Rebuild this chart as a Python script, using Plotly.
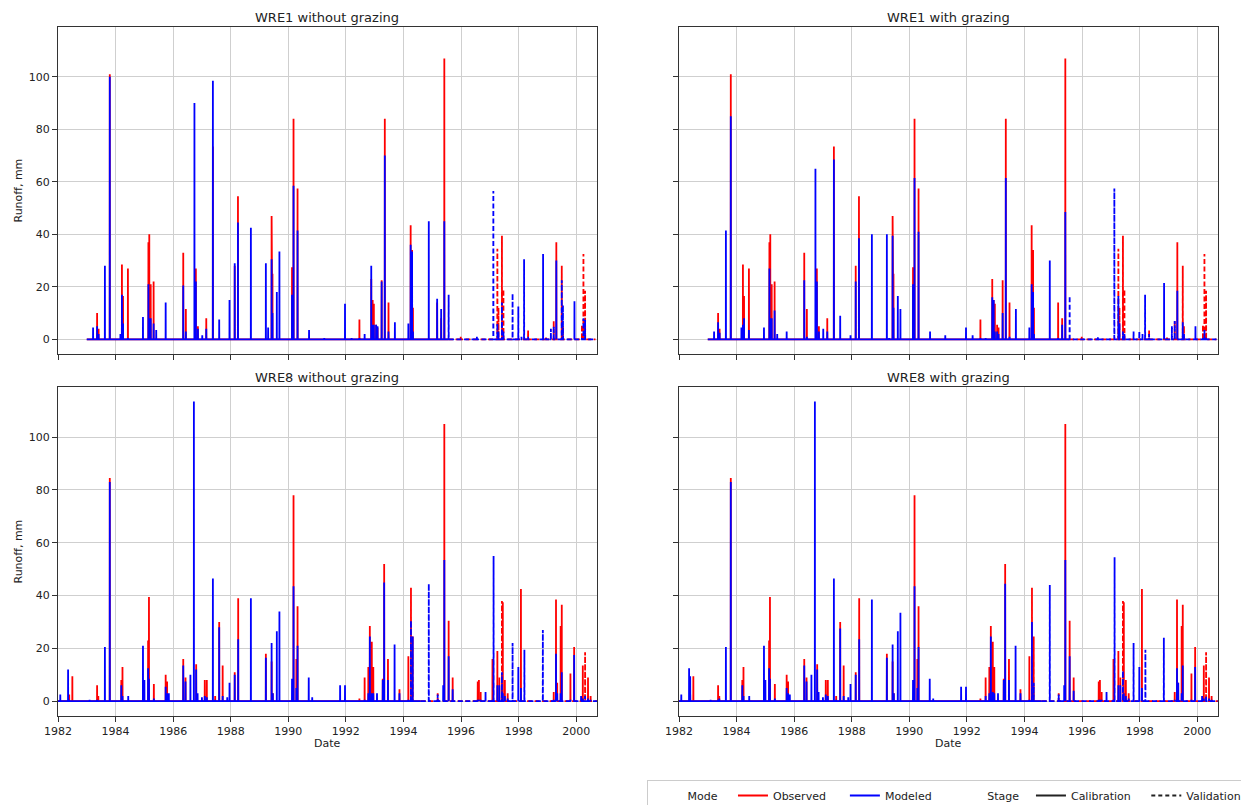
import calendar
import numpy as np
import pandas as pd
import plotly.graph_objects as go

# ---------------- data ----------------
# event dates in decimal years
WRE1_dates = [1983.22, 1983.36, 1983.41, 1983.63, 1983.80, 1984.17, 1984.22, 1984.26, 1984.43, 1984.95,
              1985.14, 1985.17, 1985.22, 1985.32, 1985.41, 1985.74, 1986.35, 1986.44, 1986.74, 1986.79,
              1986.86, 1987.01, 1987.15, 1987.38, 1987.60, 1987.96, 1988.14, 1988.25, 1988.70, 1989.22,
              1989.30, 1989.42, 1989.45, 1989.60, 1989.69, 1990.13, 1990.18, 1990.32, 1990.72, 1991.25,
              1991.97, 1992.20, 1992.47, 1992.65, 1992.88, 1992.93, 1992.97, 1993.05, 1993.10, 1993.24,
              1993.35, 1993.48, 1993.70, 1994.17, 1994.25, 1994.30, 1994.33, 1994.88, 1995.17, 1995.31,
              1995.42, 1995.57, 1995.99, 1996.55, 1997.12, 1997.26, 1997.30, 1997.42, 1997.47, 1997.79,
              1997.99, 1998.10, 1998.19, 1998.33, 1998.85, 1998.95, 1999.12, 1999.22, 1999.31, 1999.50,
              1999.54, 1999.94, 2000.20, 2000.25, 2000.31]
WRE1_observed = [0, 10, 4, 0, 101, 0, 28.5, 16.5, 27, 0,
                 37, 40, 21, 22, 0, 0, 33, 11.5, 0, 27,
                 5, 0, 8, 73.5, 0, 0, 28, 54.5, 0, 0,
                 0, 47, 25, 0, 0, 27.5, 84, 57.5, 0, 0,
                 0, 0, 7.5, 0, 23, 15, 13.5, 5.5, 4.5, 22.5,
                 84, 14, 0, 0, 43.5, 34, 12, 0, 14, 8,
                 107, 0, 1, 0, 0, 34.5, 12, 39.5, 19, 0,
                 0, 0, 0, 3.5, 0, 1, 0, 7, 37, 28,
                 5, 0, 5.5, 32.5, 18.5]
WRE1_modeled_without = [4.5, 5, 2, 28, 100, 2, 17, 6, 0.5, 8.5,
                        21, 8, 8, 6, 3.5, 14, 20.5, 3, 90, 22,
                        4, 1.5, 4, 98.5, 7.5, 15, 29, 44.5, 42.5, 29,
                        4.5, 30.5, 10, 18, 33.5, 17, 58.5, 41.5, 3.5, 0.5,
                        13.5, 0.5, 0.5, 2, 28, 5.5, 5.5, 5.5, 5, 22,
                        70, 3, 6.5, 6, 36, 33.5, 3, 45, 15.5, 11.5,
                        45, 17, 0, 1, 56.5, 6, 3, 14, 3, 17.5,
                        12.5, 1, 30.5, 1, 32.5, 0.5, 4, 5, 30, 22.5,
                        13, 14.5, 0.5, 8, 7.5]
WRE1_modeled_with = [3, 6.5, 2.5, 41.5, 85, 4.5, 5.5, 8, 3.5, 4.5,
                     27, 8, 8, 11, 2, 3, 22.5, 1, 65, 22,
                     3, 4, 3, 68.5, 9, 1.5, 22, 38.5, 40, 40,
                     0.5, 39.5, 12, 16.5, 11.5, 21, 61.5, 41, 3, 1.5,
                     4.5, 1.5, 0.5, 0.5, 16, 15, 3, 3, 2, 10,
                     61.5, 1, 11.5, 4.5, 21, 18, 2, 30, 0.5, 5.5,
                     48.5, 16.5, 0, 0.8, 57.5, 16.5, 6, 3, 2, 3,
                     3, 2, 17, 2, 21.5, 0, 5, 7, 18.5, 6.5,
                     2, 5, 0.5, 3.5, 1]
WRE1_stage = ["C"] * 61 + ["V"] * 13 + ["C", "V", "V", "V", "C", "V", "V", "C", "V", "V", "V"]

WRE8_dates = [1982.08, 1982.35, 1982.39, 1982.50, 1983.10, 1983.36, 1983.40, 1983.63, 1983.80, 1984.20,
              1984.24, 1984.44, 1984.95, 1985.00, 1985.13, 1985.16, 1985.33, 1985.74, 1985.79, 1985.85,
              1986.35, 1986.43, 1986.60, 1986.72, 1986.80, 1986.85, 1987.00, 1987.10, 1987.17, 1987.38,
              1987.46, 1987.60, 1987.72, 1987.88, 1987.96, 1988.14, 1988.26, 1988.70, 1989.22, 1989.42,
              1989.46, 1989.60, 1989.69, 1990.13, 1990.18, 1990.28, 1990.32, 1990.71, 1990.83, 1991.80,
              1991.97, 1992.47, 1992.65, 1992.78, 1992.83, 1992.90, 1992.95, 1993.08, 1993.28, 1993.33,
              1993.46, 1993.69, 1993.86, 1994.17, 1994.26, 1994.32, 1994.88, 1995.19, 1995.38, 1995.42,
              1995.57, 1995.71, 1996.58, 1996.62, 1996.68, 1996.85, 1997.09, 1997.13, 1997.26, 1997.33,
              1997.42, 1997.45, 1997.52, 1997.62, 1997.79, 1997.99, 1998.08, 1998.20, 1998.84, 1999.22,
              1999.30, 1999.34, 1999.46, 1999.50, 1999.80, 1999.93, 2000.17, 2000.23, 2000.31, 2000.41,
              2000.50]
WRE8_observed = [0, 0, 2.5, 9.5, 0, 6, 2, 0, 84.5, 8,
                 13, 0, 0, 0, 23, 39.5, 6.5, 10, 7.5, 0,
                 16, 9, 0, 0, 14, 0, 0, 8, 8, 0,
                 2, 30, 13.5, 0, 0, 11, 39, 0, 18, 15,
                 3, 0, 0, 0, 78, 16, 36, 0, 0, 0,
                 0, 1, 9, 13, 28.5, 22.5, 13, 0, 8.5, 52,
                 16, 0, 4.5, 17, 43, 24.5, 0, 3, 0, 105,
                 30.5, 9, 7.5, 8, 3.5, 0, 16, 0, 19, 9,
                 38, 37.5, 8, 3, 0, 0, 42.5, 0, 0, 3.5,
                 38.5, 7, 28.5, 36.5, 10.5, 20.5, 0, 13.5, 18.5, 9,
                 2]
WRE8_modeled_without = [2.5, 12, 0.5, 0, 0.5, 0.5, 0, 20.5, 83, 6,
                        2, 2, 21, 8, 12.5, 8.5, 1, 5.5, 3, 3,
                        13.5, 7.5, 10, 113.5, 12, 3, 1.5, 2, 1.5, 46.5,
                        0.5, 28, 2, 1.5, 7, 10, 23.5, 39, 16.5, 22,
                        3, 26.5, 34, 8.5, 43.5, 5, 21, 9, 1.5, 6,
                        6, 0, 0.5, 3, 24.5, 3, 3, 3, 8, 45,
                        8, 21.5, 3, 0.5, 30.5, 24.5, 44.5, 2.5, 6, 53.5,
                        17, 4.5, 0.5, 0.5, 0.5, 3.5, 0.5, 55, 6, 6,
                        11, 3, 2, 1, 22, 13, 5, 19.5, 27, 0.5,
                        18, 3, 3, 11, 0.5, 17.5, 2, 1, 2, 1,
                        0.5]
WRE8_modeled_with = [2.5, 12.5, 9.5, 0, 0.5, 0.5, 1, 20.5, 83, 6,
                     2, 2, 21, 8, 12.5, 8.5, 1, 5, 3, 2.5,
                     13.5, 7.5, 10, 113.5, 12, 3.5, 1.5, 2.5, 2, 46.5,
                     0.5, 27.5, 2, 1.5, 6.5, 10, 23.5, 38.5, 16.5, 21.5,
                     3, 26.5, 33.5, 8, 43.5, 5, 20.5, 8.5, 1, 5.5,
                     5.5, 0, 2, 3, 24.5, 3.5, 3, 3, 8, 44.5,
                     8, 21, 3, 0.5, 30, 7, 44, 2.5, 6, 53.5,
                     17, 4, 0.5, 0.5, 0.5, 3.5, 0.5, 54.5, 6, 6,
                     11.5, 3, 2, 1, 22, 13, 5, 19.5, 24, 0.5,
                     12.5, 7, 3, 13.5, 0.5, 13, 2, 1, 2, 1,
                     0.5]
WRE8_stage = (["C"] * 64 + ["V", "V", "V", "V"] + ["C"] * 9 + ["V", "C", "C", "V", "C", "C", "C", "V",
              "C", "C", "V", "V"] + ["C"] * 9 + ["V", "C", "C"])

# record periods (decimal years) covered by each stage's continuous series
WRE1_spans = {"C": (1983.0, 1995.55), "V": (1995.55, 2000.67)}
WRE8_spans = {"C": (1982.0, 1994.6), "V": (1994.6, 2000.72)}

panel_titles = ["WRE1 without grazing", "WRE1 with grazing", "WRE8 without grazing", "WRE8 with grazing"]
year_ticks = list(range(1982, 2001, 2))
y_ticks = [0, 20, 40, 60, 80, 100]

for arrs in [(WRE1_dates, WRE1_observed, WRE1_modeled_without, WRE1_modeled_with, WRE1_stage),
             (WRE8_dates, WRE8_observed, WRE8_modeled_without, WRE8_modeled_with, WRE8_stage)]:
    assert len(set(len(a) for a in arrs)) == 1, [len(a) for a in arrs]

# ---------------- helpers ----------------
def to_ts(t):
    y = int(np.floor(t))
    nd = 366 if calendar.isleap(y) else 365
    return pd.Timestamp(year=y, month=1, day=1) + pd.Timedelta(days=int(round((t - y) * nd)))

DAY = pd.Timedelta(days=1)
fmt = lambda d: d.strftime("%Y-%m-%d")


def build(dates, values, stages, stage, spans):
    s0, s1 = to_ts(spans[stage][0]), to_ts(spans[stage][1])
    xs, ys = [fmt(s0)], [0.0]
    ix, iy = [], []
    for t, v, st in sorted(zip(dates, values, stages)):
        if st != stage:
            continue
        d = to_ts(t)
        if s0 <= d <= s1:
            xs += [fmt(d - DAY), fmt(d), fmt(d + DAY)]
            ys += [0, v, 0]
        else:
            ix += [None, fmt(d - DAY), fmt(d), fmt(d + DAY)]
            iy += [None, 0, v, 0]
    xs.append(fmt(s1))
    ys.append(0.0)
    return xs + ix, ys + iy


FONT = "DejaVu Sans"
RED, BLUE = "#ff0000", "#0000ff"
LW = 1.8
DASH = "5px,2.5px"

panels = [
    (WRE1_dates, WRE1_observed, WRE1_modeled_without, WRE1_stage, WRE1_spans),
    (WRE1_dates, WRE1_observed, WRE1_modeled_with, WRE1_stage, WRE1_spans),
    (WRE8_dates, WRE8_observed, WRE8_modeled_without, WRE8_stage, WRE8_spans),
    (WRE8_dates, WRE8_observed, WRE8_modeled_with, WRE8_stage, WRE8_spans),
]

fig = go.Figure()
for i, (dates, obs, mod, stg, spans) in enumerate(panels):
    xa = "x" if i == 0 else f"x{i+1}"
    ya = "y" if i == 0 else f"y{i+1}"
    for vals, col in [(obs, RED), (mod, BLUE)]:
        for stage in ["C", "V"]:
            x, y = build(dates, vals, stg, stage, spans)
            fig.add_trace(go.Scatter(
                x=x, y=y, mode="lines", xaxis=xa, yaxis=ya, showlegend=False,
                connectgaps=False, hoverinfo="skip",
                line=dict(color=col, width=LW, dash="solid" if stage == "C" else DASH)))

# legend entries (seaborn style: group headers without a handle)
NB = "\u00a0"
leg = [("Mode" + NB * 3, "rgba(0,0,0,0)", "solid"), ("Observed" + NB * 4, RED, "solid"),
       ("Modeled" + NB * 3, BLUE, "solid"), ("Stage" + NB * 2, "rgba(0,0,0,0)", "solid"),
       ("Calibration" + NB * 3, "#222222", "solid"), ("Validation", "#222222", "4px,3px")]
for name, col, dash in leg:
    fig.add_trace(go.Scatter(x=[None], y=[None], mode="lines", name=name,
                             line=dict(color=col, width=1.8, dash=dash), xaxis="x", yaxis="y"))

# the page places the figure 8 px from the top-left corner of the window
OFF = 8
W, H = 1249 - OFF, 805 - OFF
px = lambda p: (p - OFF) / W          # reference x pixel -> paper
py = lambda p: 1 - (p - OFF) / H      # reference y pixel -> paper

xdom = [(px(58), px(597)), (px(679), px(1218))]
ydom = [(py(354), py(27)), (py(716), py(387))]

axis_common = dict(showline=True, mirror=True, linecolor="#333333", linewidth=1,
                   showgrid=True, gridcolor="#cfcfcf", gridwidth=1, zeroline=False,
                   ticks="outside", ticklen=5, tickcolor="#333333", tickwidth=1,
                   tickfont=dict(family=FONT, size=11, color="#222222"))
layout = dict(width=W, height=H, plot_bgcolor="white", paper_bgcolor="white",
              margin=dict(l=0, r=0, t=0, b=0, autoexpand=False),
              font=dict(family=FONT, size=11, color="#222222"))
for i in range(4):
    r, c = divmod(i, 2)
    xk = "xaxis" if i == 0 else f"xaxis{i+1}"
    yk = "yaxis" if i == 0 else f"yaxis{i+1}"
    layout[xk] = dict(axis_common, domain=xdom[c], anchor="y" if i == 0 else f"y{i+1}", type="date",
                      range=[fmt(to_ts(1982.0)), fmt(to_ts(2000.72))],
                      tickvals=[f"{yr}-01-01" for yr in year_ticks], ticktext=[str(yr) for yr in year_ticks],
                      showticklabels=(r == 1))
    layout[yk] = dict(axis_common, domain=ydom[r], anchor="x" if i == 0 else f"x{i+1}",
                      range=[-5.6, 119], tickvals=y_ticks, ticktext=[str(v) for v in y_ticks],
                      showticklabels=(c == 0))
fig.update_layout(**layout)

ann = []
cx = [px((58 + 597) / 2), px((679 + 1218) / 2)]
ty = [py(17), py(377)]
for i, t in enumerate(panel_titles):
    r, c = divmod(i, 2)
    ann.append(dict(text=t, x=cx[c], y=ty[r], xref="paper", yref="paper", showarrow=False,
                    xanchor="center", yanchor="middle", font=dict(family=FONT, size=13, color="#222222")))
for r in range(2):
    ann.append(dict(text="Runoff, mm", x=px(18), y=py((27 + 354) / 2 if r == 0 else (387 + 716) / 2),
                    xref="paper", yref="paper", showarrow=False, textangle=-90,
                    xanchor="center", yanchor="middle", font=dict(family=FONT, size=11, color="#222222")))
for c in range(2):
    ann.append(dict(text="Date", x=cx[c], y=py(743), xref="paper", yref="paper", showarrow=False,
                    xanchor="center", yanchor="middle", font=dict(family=FONT, size=11, color="#222222")))
fig.update_layout(annotations=ann)

fig.update_layout(legend=dict(orientation="h", x=px(646.5), y=py(780), xanchor="left", yanchor="top",
                              bgcolor="white", bordercolor="#cccccc", borderwidth=1,
                              font=dict(family=FONT, size=11, color="#222222"), traceorder="normal"))

fig.write_html("out.html")
